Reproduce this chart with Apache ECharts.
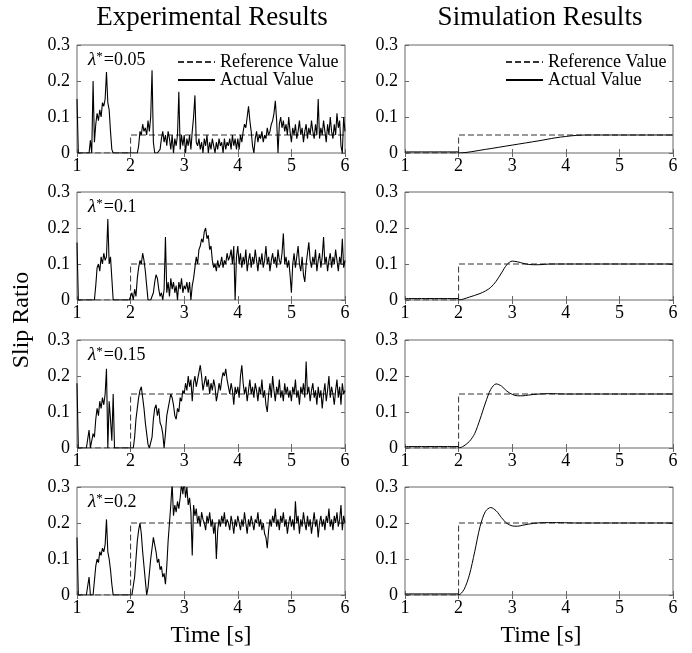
<!DOCTYPE html>
<html>
<head>
<meta charset="utf-8">
<script src="https://cdn.jsdelivr.net/npm/echarts@6/dist/echarts.min.js"></script>
<style>
  html, body { margin: 0; padding: 0; background: #fff; }
  #chart { width: 692px; height: 653px; }
</style>
</head>
<body>
<div id="chart"></div>
<script>
// target slip ratios, one per row
const lambdaLevels = [0.05, 0.1, 0.15, 0.2];
const lambdaLabels = ["0.05", "0.1", "0.15", "0.2"];
const xTicks = [1, 2, 3, 4, 5, 6];

// reference step: 0 until t=2, then the target level
const refTime = [1, 2, 2, 6];
const refOn = [0, 0, 1, 1];

// experimental samples, every 0.025 s from 1 to 6 s
const expStep = 0.025;
const exp05 = [
  0.15,0,0,0,0,0,0,0,0,0, 0.035,0,0.2,0.03,0.08,0.11,0.09,0.12,0.1,0.14, 0.13,0.15,0.225,0.14,0.12,0.06,0.01,0,0,0, 0,0,0,0,0,0,0,0,0,0,
  0,0,0,0,0,0,0.02,0.06,0.05,0.08, 0.06,0.07,0.05,0.09,0.06,0.1,0.23,0.03,0,0, 0,0,0.01,0.04,0.06,0.03,0.05,0.02,0.06,0.04, 0.01,0.05,0,0.04,0.02,0.05,0.17,0.01,0.05,0.02,
  0.05,0,0.04,0.02,0.05,0.01,0.06,0.1,0.16,0.03, 0.02,0.04,0.01,0.03,0,0.04,0.02,0.05,0,0.03, 0.01,0.04,0.02,0,0.03,0.01,0.04,0.02,0.03,0, 0.04,0.01,0.03,0.02,0.04,0.01,0.05,0.02,0.04,0.01,
  0.04,0.01,0.05,0.03,0.06,0.08,0.07,0.1,0.13,0.09, 0.06,0.02,0,0.04,0.06,0.03,0.05,0.04,0.06,0.03, 0.05,0.04,0.07,0.05,0.06,0.08,0.09,0.11,0.145,0.09, 0,0.08,0.1,0.07,0.09,0.06,0.08,0.05,0.1,0.06,
  0.03,0.07,0.05,0.08,0.04,0.06,0.09,0.05,0.07,0.03, 0.06,0.08,0.04,0.07,0.05,0.09,0.06,0.04,0.08,0.05, 0.15,0.04,0.07,0.05,0.09,0.06,0.03,0.08,0.05,0.1, 0.06,0.04,0.08,0.05,0.11,0.07,0.09,0.02,0,0.1,
  0.06
];
const exp10 = [
  0.16,0,0,0,0,0,0,0,0,0, 0,0,0,0,0.04,0.09,0.1,0.08,0.12,0.1, 0.13,0.11,0.12,0.225,0.1,0.12,0.06,0,0,0, 0,0,0,0,0,0,0,0,0,0,
  0,0.02,0,0.03,0.01,0.06,0.09,0.11,0.1,0.13, 0.11,0.08,0.04,0,0,0,0,0.02,0.05,0.07, 0.06,0.03,0.01,0.02,0,0.03,0.175,0.02,0.05,0.01, 0.06,0.03,0.05,0.02,0.04,0,0.05,0.03,0.06,0.02,
  0.04,0.03,0.05,0.02,0.05,0,0.04,0.06,0.09,0.12, 0.1,0.14,0.15,0.17,0.16,0.19,0.2,0.17,0.18,0.14, 0.15,0.11,0.09,0.1,0.08,0.11,0.09,0.1,0.12,0.09, 0.11,0.1,0.13,0.11,0.12,0.14,0.1,0.15,0,0.12,
  0.15,0.1,0.13,0.09,0.12,0.1,0.14,0.08,0.11,0.13, 0.09,0.12,0.1,0.14,0.11,0.08,0.12,0.1,0.13,0.09, 0.11,0.15,0.1,0.12,0.08,0.11,0.13,0.1,0.12,0.09, 0.14,0.11,0.1,0.13,0.185,0.1,0.12,0.09,0.11,0.07,
  0.02,0.1,0.13,0.09,0.12,0.15,0.1,0.08,0.12,0.07, 0.05,0.1,0.13,0.16,0.11,0.09,0.12,0.1,0.14,0.08, 0.11,0.13,0.09,0.12,0.175,0.1,0.12,0.08,0.11,0.13, 0.09,0.12,0.1,0.14,0.11,0.08,0.12,0.1,0.17,0.09,
  0.11
];
const exp15 = [
  0.18,0,0,0,0,0,0,0,0,0.05, 0,0,0.04,0.03,0.08,0.11,0.09,0.13,0.11,0.14, 0.12,0.15,0.22,0,0.13,0.08,0.02,0.15,0,0, 0,0,0,0,0,0,0,0,0,0,
  0,0,0,0.03,0.08,0.11,0.14,0.16,0.17,0.14, 0.11,0.07,0.04,0.01,0,0,0.03,0.08,0.11,0.12, 0.09,0.11,0.07,0.06,0.04,0,0.04,0.09,0.11,0.13, 0.15,0.14,0.12,0.09,0.08,0.11,0.1,0.14,0.13,0.16,
  0.15,0.18,0.16,0.2,0.17,0.19,0.13,0.18,0.2,0.17, 0.19,0.21,0.23,0.2,0.16,0.18,0.2,0.17,0.19,0.15, 0.18,0.16,0.19,0.17,0.13,0.15,0.18,0.16,0.19,0.21, 0.2,0.22,0.19,0.17,0.15,0.18,0.16,0.12,0.17,0.15,
  0.17,0.14,0.2,0.23,0.18,0.15,0.17,0.13,0.16,0.19, 0.15,0.17,0.14,0.18,0.16,0.13,0.17,0.15,0.19,0.14, 0.16,0.12,0.1,0.15,0.18,0.14,0.2,0.16,0.13,0.17, 0.15,0.19,0.14,0.16,0.13,0.18,0.15,0.17,0.14,0.16,
  0.13,0.17,0.15,0.19,0.14,0.16,0.12,0.17,0.15,0.18, 0.14,0.24,0.15,0.17,0.13,0.16,0.18,0.14,0.16,0.12, 0.17,0.14,0.16,0.11,0.15,0.18,0.13,0.16,0.2,0.14, 0.17,0.15,0.12,0.16,0.19,0.14,0.17,0.12,0.18,0.15,
  0.16
];
const exp20 = [
  0.16,0,0,0,0,0,0,0,0,0.05, 0,0,0,0.04,0.08,0.1,0.09,0.12,0.11,0.13, 0.12,0.14,0.21,0.12,0.1,0.07,0.03,0,0,0, 0,0,0,0,0,0,0,0,0,0,
  0,0,0,0.05,0.1,0.15,0.18,0.2,0.17,0.12, 0.08,0.04,0,0.02,0.06,0.1,0.13,0.16,0.14,0.12, 0.09,0.1,0.07,0.08,0.05,0.06,0.03,0.08,0.15,0.2, 0.25,0.31,0.22,0.25,0.23,0.26,0.24,0.27,0.31,0.28,
  0.32,0.27,0.3,0.25,0.27,0.23,0.11,0.25,0.22,0.24, 0.2,0.22,0.19,0.23,0.21,0.2,0.18,0.22,0.2,0.23, 0.19,0.21,0.17,0.2,0.1,0.18,0.21,0.19,0.22,0.2, 0.23,0.19,0.21,0.2,0.18,0.22,0.2,0.17,0.21,0.19,
  0.22,0.2,0.18,0.21,0.19,0.23,0.2,0.17,0.21,0.19, 0.22,0.2,0.18,0.21,0.2,0.23,0.19,0.21,0.18,0.2, 0.17,0.16,0.13,0.18,0.21,0.19,0.22,0.2,0.24,0.19, 0.21,0.18,0.22,0.2,0.23,0.19,0.21,0.17,0.2,0.22,
  0.19,0.21,0.18,0.26,0.2,0.22,0.17,0.21,0.19,0.23, 0.2,0.18,0.22,0.19,0.21,0.17,0.2,0.23,0.19,0.21, 0.16,0.2,0.22,0.19,0.21,0.18,0.22,0.2,0.24,0.19, 0.21,0.18,0.22,0.2,0.23,0.19,0.21,0.25,0.18,0.22,
  0.2
];
const expSeries = [exp05, exp10, exp15, exp20];

// simulation responses [t, slip]
const sim05 = [[1,0.003],[1.99,0.003],[2,0],[2.5,0.01],[3,0.022],[3.5,0.034],[3.8,0.042],[4,0.046],[4.2,0.049],[4.4,0.05],[6,0.05]];
const sim10 = [[1,0.004],[1.99,0.004],[2,0],[2.2,0.008],[2.4,0.018],[2.5,0.025],[2.6,0.035],[2.7,0.052],[2.8,0.075],[2.9,0.098],[3,0.108],[3.1,0.106],[3.2,0.102],[3.3,0.099],[3.4,0.098],[3.5,0.098],[3.7,0.1],[6,0.1]];
const sim15 = [[1,0.004],[1.99,0.004],[2,0],[2.1,0.006],[2.2,0.018],[2.3,0.04],[2.4,0.08],[2.5,0.125],[2.6,0.163],[2.7,0.178],[2.8,0.172],[2.9,0.158],[3,0.149],[3.1,0.145],[3.2,0.145],[3.3,0.147],[3.5,0.15],[3.7,0.151],[4,0.15],[6,0.15]];
const sim20 = [[1,0.003],[1.99,0.003],[2,0],[2.1,0.015],[2.2,0.055],[2.3,0.12],[2.4,0.19],[2.5,0.232],[2.6,0.243],[2.7,0.234],[2.8,0.215],[2.9,0.199],[3,0.192],[3.1,0.191],[3.2,0.194],[3.4,0.199],[3.6,0.201],[3.9,0.201],[4.2,0.2],[6,0.2]];
const simSeries = [sim05, sim10, sim15, sim20];

const FONT = '"Liberation Serif", "DejaVu Serif", serif';
const AXIS_COLOR = "#666";
const gridLeft = [77, 405];
const gridTop = [45, 192, 340, 487];
const gridWidth = 268;
const gridHeight = 108;

const chart = echarts.init(document.getElementById("chart"));

const grids = [];
const xAxes = [];
const yAxes = [];
const series = [];

const tickStyle = { inside: true, length: 4, lineStyle: { color: AXIS_COLOR } };

for (let c = 0; c < 2; c++) {
  for (let r = 0; r < 4; r++) {
    const idx = c * 4 + r;
    grids.push({
      left: gridLeft[c], top: gridTop[r], width: gridWidth, height: gridHeight,
      show: true, borderColor: AXIS_COLOR, borderWidth: 1
    });
    // bottom + top x axes (ticks in on both)
    xAxes.push({
      gridIndex: idx, type: "value", position: "bottom",
      min: xTicks[0], max: xTicks[xTicks.length - 1], interval: 1,
      axisLine: { show: false }, axisTick: tickStyle, splitLine: { show: false },
      axisLabel: { color: "#000", fontFamily: FONT, fontSize: 18, margin: 4 }
    });
    xAxes.push({
      gridIndex: idx, type: "value", position: "top",
      min: xTicks[0], max: xTicks[xTicks.length - 1], interval: 1,
      axisLine: { show: false }, axisTick: tickStyle, splitLine: { show: false },
      axisLabel: { show: false }
    });
    yAxes.push({
      gridIndex: idx, type: "value", position: "left",
      min: 0, max: 0.3, interval: 0.1,
      axisLine: { show: false }, axisTick: tickStyle, splitLine: { show: false },
      axisLabel: { color: "#000", fontFamily: FONT, fontSize: 18, margin: 7 }
    });
    yAxes.push({
      gridIndex: idx, type: "value", position: "right",
      min: 0, max: 0.3, interval: 0.1,
      axisLine: { show: false }, axisTick: tickStyle, splitLine: { show: false },
      axisLabel: { show: false }
    });

    const lam = lambdaLevels[r];
    series.push({
      name: "Reference Value", type: "line",
      xAxisIndex: idx * 2, yAxisIndex: idx * 2,
      data: refTime.map((t, k) => [t, refOn[k] * lam]),
      symbol: "none", silent: true,
      itemStyle: { color: "#333" },
      lineStyle: { color: "#333", width: 1, type: [6, 3] }
    });
    const actual = c === 0
      ? expSeries[r].map((v, k) => [1 + k * expStep, v])
      : simSeries[r];
    series.push({
      name: "Actual Value", type: "line",
      xAxisIndex: idx * 2, yAxisIndex: idx * 2,
      data: actual,
      symbol: "none", silent: true, clip: true,
      smooth: c === 1 ? 0.3 : false,
      itemStyle: { color: "#000" },
      lineStyle: { color: "#000", width: c === 0 ? 1.1 : 1 }
    });
  }
}

const legendBase = {
  data: ["Reference Value", "Actual Value"],
  orient: "vertical", top: 48, itemGap: 0,
  itemWidth: 37, itemHeight: 14,
  itemStyle: { opacity: 0 },
  textStyle: { color: "#000", fontFamily: FONT, fontSize: 18 },
  selectedMode: false
};

const graphics = [
  { type: "text", x: 212, y: 18, style: { text: "Experimental Results", font: '27px ' + FONT, fill: "#000", textAlign: "center", textVerticalAlign: "middle" } },
  { type: "text", x: 540, y: 18, style: { text: "Simulation Results", font: '27px ' + FONT, fill: "#000", textAlign: "center", textVerticalAlign: "middle" } },
  { type: "text", x: 211, y: 636, style: { text: "Time [s]", font: '24px ' + FONT, fill: "#000", textAlign: "center", textVerticalAlign: "middle" } },
  { type: "text", x: 541, y: 636, style: { text: "Time [s]", font: '24px ' + FONT, fill: "#000", textAlign: "center", textVerticalAlign: "middle" } },
  { type: "text", x: 22, y: 320, rotation: Math.PI / 2, style: { text: "Slip Ratio", font: '24px ' + FONT, fill: "#000", textAlign: "center", textVerticalAlign: "middle" } }
];
lambdaLabels.forEach((lab, r) => {
  graphics.push({
    type: "text", x: 88, y: gridTop[r] + 15,
    style: {
      text: "{l|λ}{s|*}{a|=" + lab + "}",
      textVerticalAlign: "middle",
      rich: {
        l: { fontFamily: FONT, fontSize: 19, fontStyle: "italic", color: "#000" },
        s: { fontFamily: FONT, fontSize: 13, verticalAlign: "top", color: "#000", padding: [0, 1, 0, 0] },
        a: { fontFamily: FONT, fontSize: 18, color: "#000" }
      }
    }
  });
});

chart.setOption({
  animation: false,
  backgroundColor: "#fff",
  grid: grids,
  xAxis: xAxes,
  yAxis: yAxes,
  legend: [
    Object.assign({}, legendBase, { left: 172 }),
    Object.assign({}, legendBase, { left: 500 })
  ],
  graphic: graphics,
  series: series
});
</script>
</body>
</html>
